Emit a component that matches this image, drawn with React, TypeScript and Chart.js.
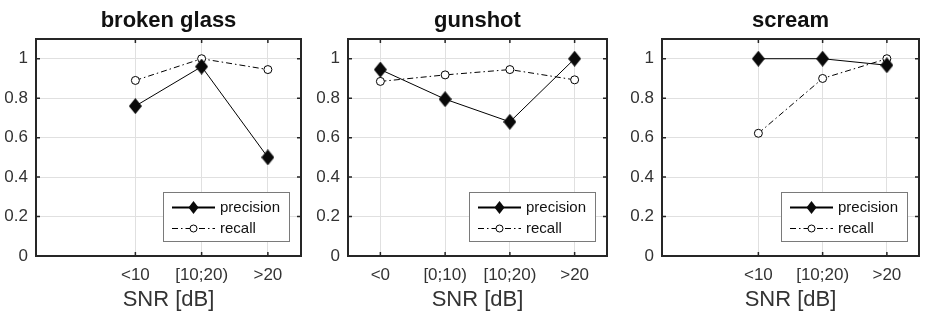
import React, { useEffect, useRef } from 'react';
import { Chart, registerables } from 'chart.js';

Chart.register(...registerables);

// ---- data ----
const SLOT_COUNT = 4;
const yTicks = [0, 0.2, 0.4, 0.6, 0.8, 1];
const xAxisTitle = 'SNR [dB]';
const seriesNames = ['precision', 'recall'];

const brokenGlassTitle = 'broken glass';
const brokenGlassCategories = ['<10', '[10;20)', '>20'];
const brokenGlassPrecision = [0.76, 0.96, 0.5];
const brokenGlassRecall = [0.89, 1.0, 0.945];

const gunshotTitle = 'gunshot';
const gunshotCategories = ['<0', '[0;10)', '[10;20)', '>20'];
const gunshotPrecision = [0.945, 0.795, 0.68, 1.0];
const gunshotRecall = [0.885, 0.918, 0.945, 0.893];

const screamTitle = 'scream';
const screamCategories = ['<10', '[10;20)', '>20'];
const screamPrecision = [1.0, 1.0, 0.967];
const screamRecall = [0.622, 0.9, 1.0];

const FONT = "'Liberation Sans', Arial, Helvetica, sans-serif";
const TEXT = '#333333';
const BOX = '#262626';
const GRID = '#e0e0e0';

function makeDiamond(w: number, h: number) {
  const c = document.createElement('canvas');
  c.width = w;
  c.height = h;
  const ctx = c.getContext('2d')!;
  ctx.fillStyle = '#0a0a0a';
  ctx.beginPath();
  ctx.moveTo(w / 2, 0);
  ctx.lineTo(w, h / 2);
  ctx.lineTo(w / 2, h);
  ctx.lineTo(0, h / 2);
  ctx.closePath();
  ctx.fill();
  return c;
}

const frameAndLegend = {
  id: 'frameAndLegend',
  afterDraw(chart: any) {
    const { ctx, chartArea: a } = chart;
    ctx.save();
    // inner tick marks
    ctx.strokeStyle = BOX;
    ctx.lineWidth = 1.5;
    const ys = chart.scales.y.ticks.map((t: any) => chart.scales.y.getPixelForValue(t.value));
    const xs = chart.scales.x.ticks.map((t: any) => chart.scales.x.getPixelForValue(t.value));
    ctx.beginPath();
    ys.forEach((y: number) => {
      ctx.moveTo(a.left, y); ctx.lineTo(a.left + 4, y);
      ctx.moveTo(a.right - 4, y); ctx.lineTo(a.right, y);
    });
    xs.forEach((x: number) => {
      ctx.moveTo(x, a.bottom); ctx.lineTo(x, a.bottom - 4);
      ctx.moveTo(x, a.top); ctx.lineTo(x, a.top + 4);
    });
    ctx.stroke();
    // box
    ctx.lineWidth = 2;
    ctx.strokeRect(a.left, a.top, a.right - a.left, a.bottom - a.top);

    // legend
    const lw = 126, lh = 49;
    const lx = a.right - 12 - lw;
    const ly = a.bottom - 15 - lh;
    ctx.fillStyle = '#ffffff';
    ctx.fillRect(lx, ly, lw, lh);
    ctx.strokeStyle = '#7a7a7a';
    ctx.lineWidth = 1;
    ctx.strokeRect(lx + 0.5, ly + 0.5, lw, lh);

    const x0 = lx + 9, x1 = lx + 52, xm = lx + 30.5;
    const r1 = ly + 15.5, r2 = ly + 36.5;
    // precision
    ctx.strokeStyle = '#000';
    ctx.lineWidth = 2;
    ctx.beginPath();
    ctx.moveTo(x0, r1); ctx.lineTo(x1, r1);
    ctx.stroke();
    ctx.fillStyle = '#0a0a0a';
    ctx.beginPath();
    ctx.moveTo(xm, r1 - 6.5); ctx.lineTo(xm + 5, r1); ctx.lineTo(xm, r1 + 6.5); ctx.lineTo(xm - 5, r1);
    ctx.closePath();
    ctx.fill();
    // recall
    ctx.lineWidth = 1;
    ctx.setLineDash([6, 3, 1.5, 3]);
    ctx.beginPath();
    ctx.moveTo(x0, r2); ctx.lineTo(x1, r2);
    ctx.stroke();
    ctx.setLineDash([]);
    ctx.fillStyle = '#fff';
    ctx.beginPath();
    ctx.arc(xm, r2, 3.5, 0, Math.PI * 2);
    ctx.fill();
    ctx.stroke();

    ctx.fillStyle = '#111';
    ctx.font = `15px ${FONT}`;
    ctx.textAlign = 'left';
    ctx.textBaseline = 'middle';
    ctx.fillText(seriesNames[0], lx + 57, r1);
    ctx.fillText(seriesNames[1], lx + 57, r2);
    ctx.restore();
  },
};

type PanelProps = {
  title: string;
  categories: string[];
  precision: number[];
  recall: number[];
  left: number;
  width: number;
  yAxisWidth: number;
  rightPad: number;
};

function Panel({ title, categories, precision, recall, left, width, yAxisWidth, rightPad }: PanelProps) {
  const ref = useRef<HTMLCanvasElement>(null);
  useEffect(() => {
    const n = categories.length;
    const offset = SLOT_COUNT - n + 1;
    const xs = categories.map((_, i) => offset + i);
    const diamond = makeDiamond(13, 16);
    const chart = new Chart(ref.current!, {
      type: 'line',
      data: {
        datasets: [
          {
            label: seriesNames[0],
            data: xs.map((x, i) => ({ x, y: precision[i] })),
            borderColor: '#000',
            borderWidth: 1,
            pointStyle: diamond as any,
            pointRadius: 8,
            pointBackgroundColor: '#000',
            pointBorderColor: '#000',
            tension: 0,
          },
          {
            label: seriesNames[1],
            data: xs.map((x, i) => ({ x, y: recall[i] })),
            borderColor: '#000',
            borderWidth: 1,
            borderDash: [6, 3, 1.5, 3],
            pointStyle: 'circle',
            pointRadius: 4,
            pointBackgroundColor: '#fff',
            pointBorderColor: '#000',
            pointBorderWidth: 1,
            tension: 0,
          },
        ],
      },
      plugins: [frameAndLegend],
      options: {
        animation: false,
        responsive: true,
        maintainAspectRatio: false,
        events: [],
        layout: { padding: { left: 0, right: rightPad, top: 0, bottom: 0 } },
        plugins: {
          legend: { display: false },
          tooltip: { enabled: false },
          title: {
            display: true,
            text: title,
            fullSize: false,
            color: '#111',
            font: { family: FONT, size: 22, weight: 'bold' },
            padding: { top: 8, bottom: 4.6 },
          },
        },
        scales: {
          x: {
            type: 'linear',
            min: 0.5,
            max: SLOT_COUNT + 0.5,
            afterBuildTicks: (s: any) => {
              s.ticks = xs.map((v) => ({ value: v }));
            },
            afterFit: (s: any) => {
              s.height = 58;
            },
            ticks: {
              autoSkip: false,
              maxRotation: 0,
              padding: 9,
              color: TEXT,
              font: { family: FONT, size: 17 },
              callback: (v: any) => {
                const i = xs.indexOf(Number(v));
                return i >= 0 ? categories[i] : '';
              },
            },
            grid: { color: GRID, lineWidth: 1, drawTicks: false },
            border: { display: false },
            title: {
              display: true,
              text: xAxisTitle,
              color: TEXT,
              font: { family: FONT, size: 22 },
              padding: { top: 0, bottom: 1 },
            },
          },
          y: {
            type: 'linear',
            min: 0,
            max: 1.1,
            afterBuildTicks: (s: any) => {
              s.ticks = yTicks.map((v) => ({ value: v }));
            },
            afterFit: (s: any) => {
              s.width = yAxisWidth;
            },
            ticks: {
              padding: 8,
              color: TEXT,
              font: { family: FONT, size: 17 },
              callback: (v: any) => String(v),
            },
            grid: { color: GRID, lineWidth: 1, drawTicks: false },
            border: { display: false },
          },
        },
      } as any,
    });
    return () => chart.destroy();
  }, []);
  return (
    <div style={{ position: 'absolute', left, top: 0, width, height: 314 }}>
      <canvas ref={ref} />
    </div>
  );
}

export default function App() {
  return (
    <div style={{ position: 'fixed', left: 0, top: 0, width: 928, height: 314, background: '#fff' }}>
      <Panel title={brokenGlassTitle} categories={brokenGlassCategories} precision={brokenGlassPrecision}
        recall={brokenGlassRecall} left={0} width={310} yAxisWidth={36} rightPad={4} />
      <Panel title={gunshotTitle} categories={gunshotCategories} precision={gunshotPrecision}
        recall={gunshotRecall} left={310} width={306} yAxisWidth={38} rightPad={3} />
      <Panel title={screamTitle} categories={screamCategories} precision={screamPrecision}
        recall={screamRecall} left={616} width={312} yAxisWidth={46} rightPad={3} />
    </div>
  );
}
